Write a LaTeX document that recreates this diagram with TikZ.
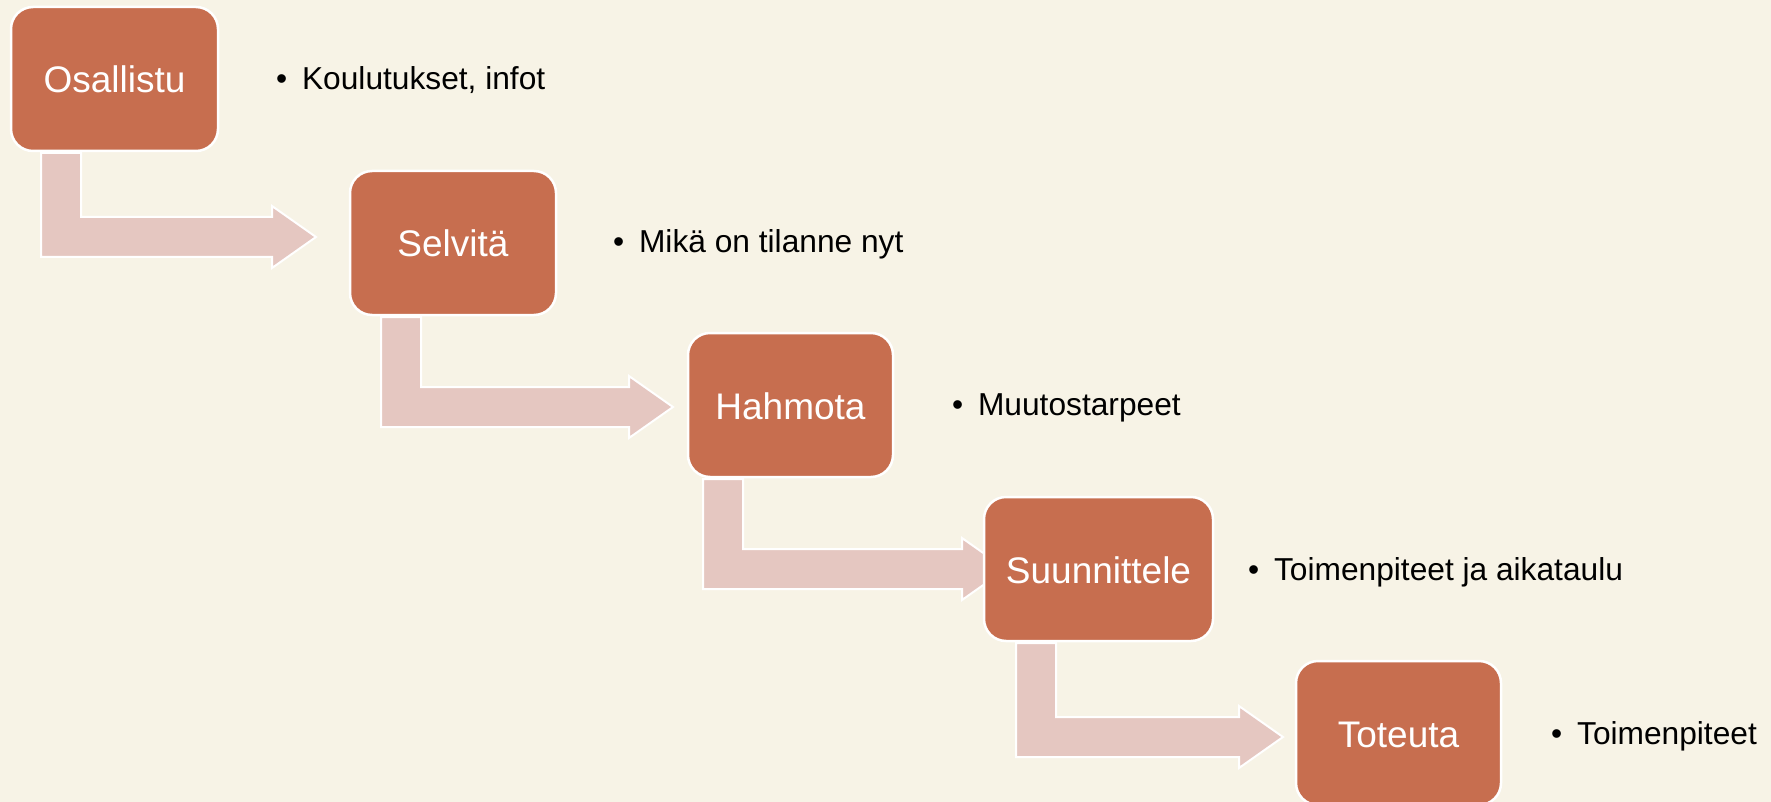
\documentclass[tikz,border=0pt]{standalone}
\usepackage{fontspec}
\setmainfont{Liberation Sans}
\usetikzlibrary{calc}
\definecolor{bgcream}{HTML}{F7F3E6}
\definecolor{boxrust}{HTML}{C76E4F}
\definecolor{arrowpink}{HTML}{E5C7C1}
\pgfdeclarelayer{back}
\pgfdeclarelayer{arrows}
\pgfsetlayers{back,arrows,main}
\tikzset{
  stage/.style={rectangle,rounded corners=22pt,fill=boxrust,draw=white,line width=2.5pt,
    outer sep=0pt,inner sep=0pt,minimum width=206pt,minimum height=144pt,text=white,
    font=\fontsize{37}{44}\selectfont,text height=28pt,text depth=0pt},
  point/.style={anchor=base west,inner sep=0pt,font=\fontsize{31.7}{38}\selectfont},
}
% bent arrow: #1 top left corner of the shaft, #2 tip
\newcommand{\bendarrow}[2]{%
  \path[fill=arrowpink,draw=white,line width=2pt]
    let \p1=#1, \p2=#2 in
    (\x1,\y1) -- (\x1+40pt,\y1) -- (\x1+40pt,\y2+20pt) -- (\x2-44pt,\y2+20pt)
    -- (\x2-44pt,\y2+31pt) -- (\x2,\y2) -- (\x2-44pt,\y2-31pt) -- (\x2-44pt,\y2-20pt)
    -- (\x1,\y2-20pt) -- cycle;}
\begin{document}
\begin{tikzpicture}[x=1pt,y=-1pt]
\useasboundingbox (0,0) rectangle (1771,802);
\begin{pgfonlayer}{back}
\fill[bgcream] (0,0) rectangle (1771,802);
\end{pgfonlayer}
%
\node (osallistu) [stage,minimum width=207pt] at (114.5,79) {Osallistu};
\node (selvita) [stage] at (453,243) {Selvitä};
\node (hahmota) [stage,minimum width=205pt] at (790.5,405) {Hahmota};
\node (suunnittele) [stage,minimum width=229pt] at (1098.5,569) {Suunnittele};
\node (toteuta) [stage,minimum width=205pt] at (1398.5,733) {Toteuta};
%
\node (p1) [point] at (276,90) {\textbullet\hspace{14.8pt}Koulutukset, infot};
\node (p2) [point] at (613,253) {\textbullet\hspace{14.8pt}Mikä on tilanne nyt};
\node (p3) [point] at (952,415) {\textbullet\hspace{14.8pt}Muutostarpeet};
\node (p4) [point] at (1248,580) {\textbullet\hspace{14.8pt}Toimenpiteet ja aikataulu};
\node (p5) [point] at (1551,744) {\textbullet\hspace{14.8pt}Toimenpiteet};
%
\begin{pgfonlayer}{arrows}
\bendarrow{($(osallistu.south west)+(30,2)$)}{($(selvita.west)+(-34,-6)$)}
\bendarrow{($(selvita.south west)+(31,2)$)}{($(hahmota.west)+(-15,2)$)}
\bendarrow{($(hahmota.south west)+(15,2)$)}{($(suunnittele.west)+(22,0)$)}
\bendarrow{($(suunnittele.south west)+(32,2)$)}{($(toteuta.west)+(-13,4)$)}
\end{pgfonlayer}
\end{tikzpicture}
\end{document}
